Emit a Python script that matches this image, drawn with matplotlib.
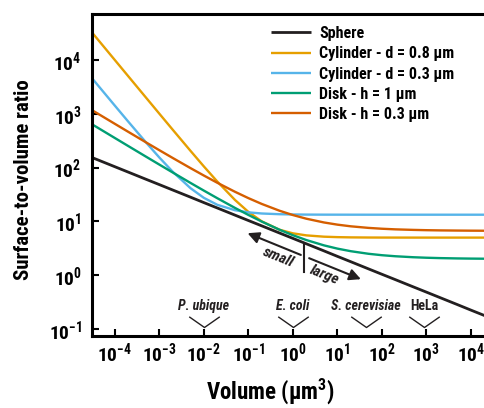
import matplotlib
matplotlib.use("Agg")
import matplotlib.pyplot as plt
from matplotlib import font_manager
from matplotlib.path import Path

# pick a condensed bold sans if there is one
names = {f.name for f in font_manager.fontManager.ttflist}
font = "Roboto"
for cand in ["Roboto Condensed", "Liberation Sans Narrow", "Roboto"]:
    if cand in names:
        font = cand
        break
plt.rcParams["font.family"] = [font, "DejaVu Sans"]
plt.rcParams["font.weight"] = "bold"
plt.rcParams["mathtext.default"] = "regular"

# volumes (um^3) and surface-to-volume ratios
volume = [3e-5, 1e-4, 2e-4, 5e-4, 1e-3, 2e-3, 5e-3, 0.01, 0.02, 0.05, 0.1, 0.2, 0.5,
          1, 2, 5, 10, 20, 50, 100, 200, 500, 1e3, 2e3, 5e3, 1e4, 2e4, 5e4, 1e5]
sphere = [155.6, 104.2, 82.7, 60.9, 48.4, 38.4, 28.3, 22.4, 17.8, 13.1, 10.4, 8.27, 6.09,
          4.84, 3.84, 2.83, 2.24, 1.78, 1.31, 1.04, 0.827, 0.609, 0.484, 0.384, 0.283,
          0.224, 0.178, 0.131, 0.104]
cyl_08 = [33515, 10058, 5032, 2016, 1010, 507.7, 206.1, 105.5, 55.3, 25.1, 15.05, 10.03, 7.01,
          6.005, 5.503, 5.201, 5.101, 5.05, 5.02, 5.01, 5.005, 5.002, 5.001, 5.0, 5.0,
          5.0, 5.0, 5.0, 5.0]
cyl_03 = [4725, 1427, 720.2, 296.1, 154.7, 84.0, 41.6, 27.47, 20.4, 16.16, 14.75, 14.04, 13.62,
          13.47, 13.4, 13.36, 13.35, 13.34, 13.33, 13.33, 13.33, 13.33, 13.33, 13.33, 13.33,
          13.33, 13.33, 13.33, 13.33]
disk_1 = [649.2, 356.5, 252.7, 160.5, 114.1, 81.3, 52.1, 37.45, 27.07, 17.85, 13.21, 9.93, 7.01,
          5.545, 4.507, 3.585, 3.121, 2.793, 2.501, 2.354, 2.251, 2.159, 2.112, 2.079, 2.05,
          2.035, 2.025, 2.016, 2.011]
disk_03 = [1188.4, 653.9, 464.3, 296.1, 211.3, 151.4, 98.2, 71.39, 52.43, 35.61, 27.13, 21.14, 15.82,
           13.14, 11.24, 9.56, 8.71, 8.11, 7.58, 7.31, 7.12, 6.96, 6.87, 6.81, 6.76,
           6.73, 6.71, 6.70, 6.69]

labels = ["Sphere", "Cylinder - d = 0.8 µm", "Cylinder - d = 0.3 µm",
          "Disk - h = 1 µm", "Disk - h = 0.3 µm"]
colors = ["#231f20", "#e69f00", "#56b4e9", "#009e73", "#d55e00"]

# organisms marked under the curves
species = ["P. ubique", "E. coli", "S. cerevisiae", "HeLa"]
species_vol = [0.01, 1.0, 44, 900]
species_italic = [True, True, True, False]

fig = plt.figure(figsize=(4.84, 4.08), dpi=100)
ax = fig.add_axes([91.5 / 484, 72 / 408, 424 / 484, 322 / 408])

series = [sphere, cyl_08, cyl_03, disk_1, disk_03]
for vals, lab, col in zip(series, labels, colors):
    lw = 2.0 if lab == "Sphere" else 1.7
    ax.plot(volume, vals, color=col, lw=lw, label=lab, solid_capstyle="butt")

ax.set_xscale("log")
ax.set_yscale("log")
ax.set_xlim(3e-5, 1e5)
ax.set_ylim(0.074, 7.2e4)

for s in ["left", "top", "bottom"]:
    ax.spines[s].set_linewidth(2.2)
ax.spines["right"].set_visible(False)

ax.tick_params(axis="x", which="major", direction="in", length=5, width=1.5,
               labelsize=14, pad=4)
ax.tick_params(axis="x", which="minor", direction="in", length=2.5, width=1.2)
ax.tick_params(axis="y", which="major", direction="in", length=5, width=1.5,
               labelsize=14, pad=7)
ax.tick_params(axis="y", which="minor", left=False)
ax.set_xticks([1e-4, 1e-3, 1e-2, 1e-1, 1, 10, 100, 1e3, 1e4])
ax.set_yticks([0.1, 1, 10, 100, 1e3, 1e4])

ax.set_xlabel("Volume (µm$^3$)", fontsize=16.5, fontweight="bold")
ax.xaxis.set_label_coords((270 - 91.5) / 424, -40 / 322)
ax.set_ylabel("Surface-to-volume ratio", fontsize=15, fontweight="bold")
ax.yaxis.set_label_coords(-58 / 424, 0.486)

leg = ax.legend(loc="upper left", bbox_to_anchor=(263 / 484, 1 - 18 / 408),
                bbox_transform=fig.transFigure, frameon=False, fontsize=11.5,
                handlelength=2.5, handletextpad=0.5, labelspacing=0.33, borderpad=0)
for t in leg.get_texts():
    t.set_fontweight("bold")

# V-shaped markers for organisms
vee = Path([(-1, 0.7), (0, 0), (1, 0.7)], [Path.MOVETO, Path.LINETO, Path.LINETO])
xtrans = ax.get_xaxis_transform()
for name, v, it in zip(species, species_vol, species_italic):
    ax.plot([v], [0.029], transform=xtrans, marker=vee, markersize=22, mfc="none",
            mec="#231f20", mew=1.0, clip_on=False)
    ax.text(v, 0.094, name, transform=xtrans, ha="center", va="center", fontsize=10,
            style="italic" if it else "normal", fontweight="bold", color="#231f20")

# small / large arrows along the sphere line
ax.plot([1.77, 1.77], [3.98, 1.15], color="#231f20", lw=1.5)
ax.annotate("", xy=(0.096, 6.04), xytext=(1.51, 2.38),
            arrowprops=dict(arrowstyle="-|>", color="#231f20", lw=1.5,
                            mutation_scale=17, shrinkA=0, shrinkB=0))
ax.annotate("", xy=(33.7, 0.843), xytext=(2.32, 2.07),
            arrowprops=dict(arrowstyle="-|>", color="#231f20", lw=1.5,
                            mutation_scale=17, shrinkA=0, shrinkB=0))
ax.text(0.472, 2.19, "small", rotation=-22, ha="center", va="center", fontsize=11,
        style="italic", fontweight="bold", color="#231f20", rotation_mode="anchor")
ax.text(5.24, 0.98, "large", rotation=-22, ha="center", va="center", fontsize=11,
        style="italic", fontweight="bold", color="#231f20", rotation_mode="anchor")

fig.savefig("out.png", dpi=100)
